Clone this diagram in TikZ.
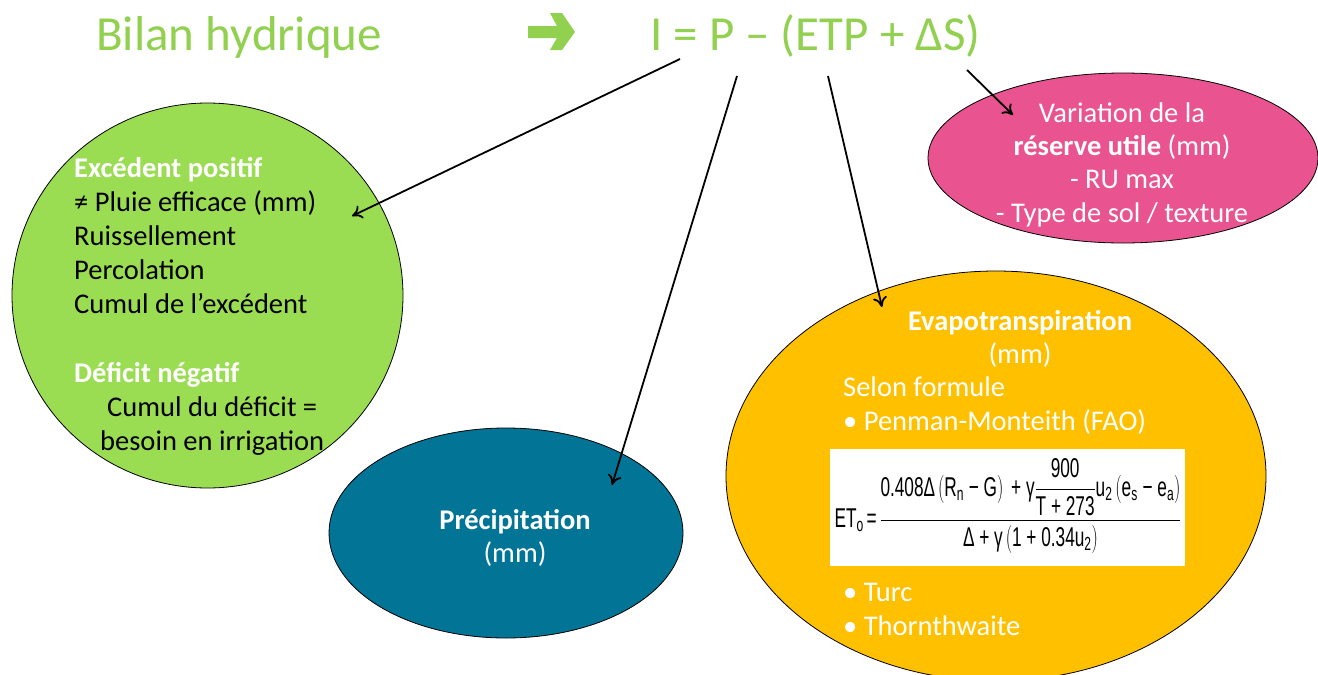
\documentclass[tikz,border=0pt]{standalone}
\usepackage{fontspec}
\setmainfont{Carlito}
\newfontfamily\formfont{Liberation Sans}
\usepackage{amsmath}
\usepackage{graphicx}
\usetikzlibrary{arrows.meta}
\definecolor{titlegreen}{RGB}{146,208,80}
\definecolor{circgreen}{RGB}{155,221,82}
\definecolor{teal}{RGB}{2,117,150}
\definecolor{pink}{RGB}{233,84,144}
\definecolor{orange}{RGB}{255,192,0}
\newcommand\tf[1]{\text{#1}}
\begin{document}
\begin{tikzpicture}[x=1pt,y=-1pt,
  conn/.style={draw=black, line width=1.8pt, -{To[length=10pt,width=14pt]}},
  bubble/.style={draw=black, line width=0.8pt},
  titletext/.style={inner sep=0, text=titlegreen, font=\fontsize{49}{56}\selectfont},
  body/.style={inner sep=0, font=\fontsize{28.5}{34}\selectfont},
  boldbody/.style={inner sep=0, font=\fontsize{28.5}{34}\selectfont\bfseries},
  wbody/.style={body, text=white},
  bbody/.style={body, text=black}]
\useasboundingbox (0,0) rectangle (1318,675);
\fill[white] (0,0) rectangle (1318,675);

% bubbles
\draw[bubble, fill=circgreen] (207.5,295.5) ellipse [x radius=195.5pt, y radius=192.5pt];
\draw[bubble, fill=teal] (506,533) ellipse [x radius=177pt, y radius=105pt];
\draw[bubble, fill=pink] (1123,158) ellipse [x radius=195pt, y radius=85pt];
\draw[bubble, fill=orange] (996,476) ellipse [x radius=270pt, y radius=205pt];

% title
\node[titletext, anchor=base west] (title) at (96,50) {Bilan hydrique};
\fill[titlegreen] (528,26) -- (557,26) -- (550,13) -- (562,13) -- (575,32) -- (562,50) -- (550,50) -- (557,38) -- (528,38) -- cycle;
\node[titletext, anchor=base west] (eq) at (650,50) {I = P – (ETP + ΔS)};

% green circle text
\node[boldbody, text=white, anchor=base west] (g1) at (74,177) {Excédent positif};
\node[bbody, anchor=base west] (g2) at (74,211) {≠ Pluie efficace (mm)};
\node[bbody, anchor=base west] (g3) at (74,245) {Ruissellement};
\node[bbody, anchor=base west] (g4) at (74,279) {Percolation};
\node[bbody, anchor=base west] (g5) at (74,313) {Cumul de l’excédent};
\node[boldbody, text=white, anchor=base west] (g6) at (74,382) {Déficit négatif};
\node[bbody, anchor=base west] (g7) at (107,416) {Cumul du déficit =};
\node[bbody, anchor=base west] (g8) at (100,450) {besoin en irrigation};

% pink text
\node[wbody, anchor=base] (p1) at (1122,122) {Variation de la};
\node[wbody, anchor=base] (p2) at (1122,155) {\textbf{réserve utile} (mm)};
\node[wbody, anchor=base] (p3) at (1122,188) {- RU max};
\node[wbody, anchor=base] (p4) at (1122,222) {- Type de sol / texture};

% teal text
\node[boldbody, text=white, anchor=base] (t1) at (515,529) {Précipitation};
\node[wbody, anchor=base] (t2) at (515,562) {(mm)};

% orange text
\node[boldbody, text=white, anchor=base] (o1) at (1020,330) {Evapotranspiration};
\node[wbody, anchor=base] (o2) at (1020,363) {(mm)};
\node[wbody, anchor=base west] (o3) at (843,396) {Selon formule};
\node[wbody, anchor=base west] (o4) at (843,430) {• Penman-Monteith (FAO)};
\node[fill=white, inner sep=0, minimum width=355pt, minimum height=117pt] (fbox) at (1007.5,507.5) {};
\node[inner sep=0, font=\formfont\fontsize{20}{24}\selectfont] (formula) at (1008,506) {\resizebox*{347pt}{95pt}{$\tf{ET}_{\tf{o}}\tf{\,=\,}\dfrac{\tf{0.408Δ}\left(\tf{R}_{\tf{n}}\tf{ − G}\right)\tf{ + γ}\dfrac{\tf{900}}{\tf{T + 273}}\tf{u}_{\tf{2}}\left(\tf{e}_{\tf{s}}\tf{ − e}_{\tf{a}}\right)}{\tf{Δ + γ}\left(\tf{1 + 0.34u}_{\tf{2}}\right)}$}};
\node[wbody, anchor=base west] (o5) at (843,601) {• Turc};
\node[wbody, anchor=base west] (o6) at (843,635) {• Thornthwaite};

% connectors
\coordinate (s1) at (680,59);
\coordinate (e1) at (352,216);
\coordinate (s2) at (737,76);
\coordinate (e2) at (612,485);
\coordinate (s3) at (828,76);
\coordinate (e3) at (882,307);
\coordinate (s4) at (967,70);
\coordinate (e4) at (1013,115);
\draw[conn] (s1) -- (e1);
\draw[conn] (s2) -- (e2);
\draw[conn] (s3) -- (e3);
\draw[conn] (s4) -- (e4);
\end{tikzpicture}
\end{document}
